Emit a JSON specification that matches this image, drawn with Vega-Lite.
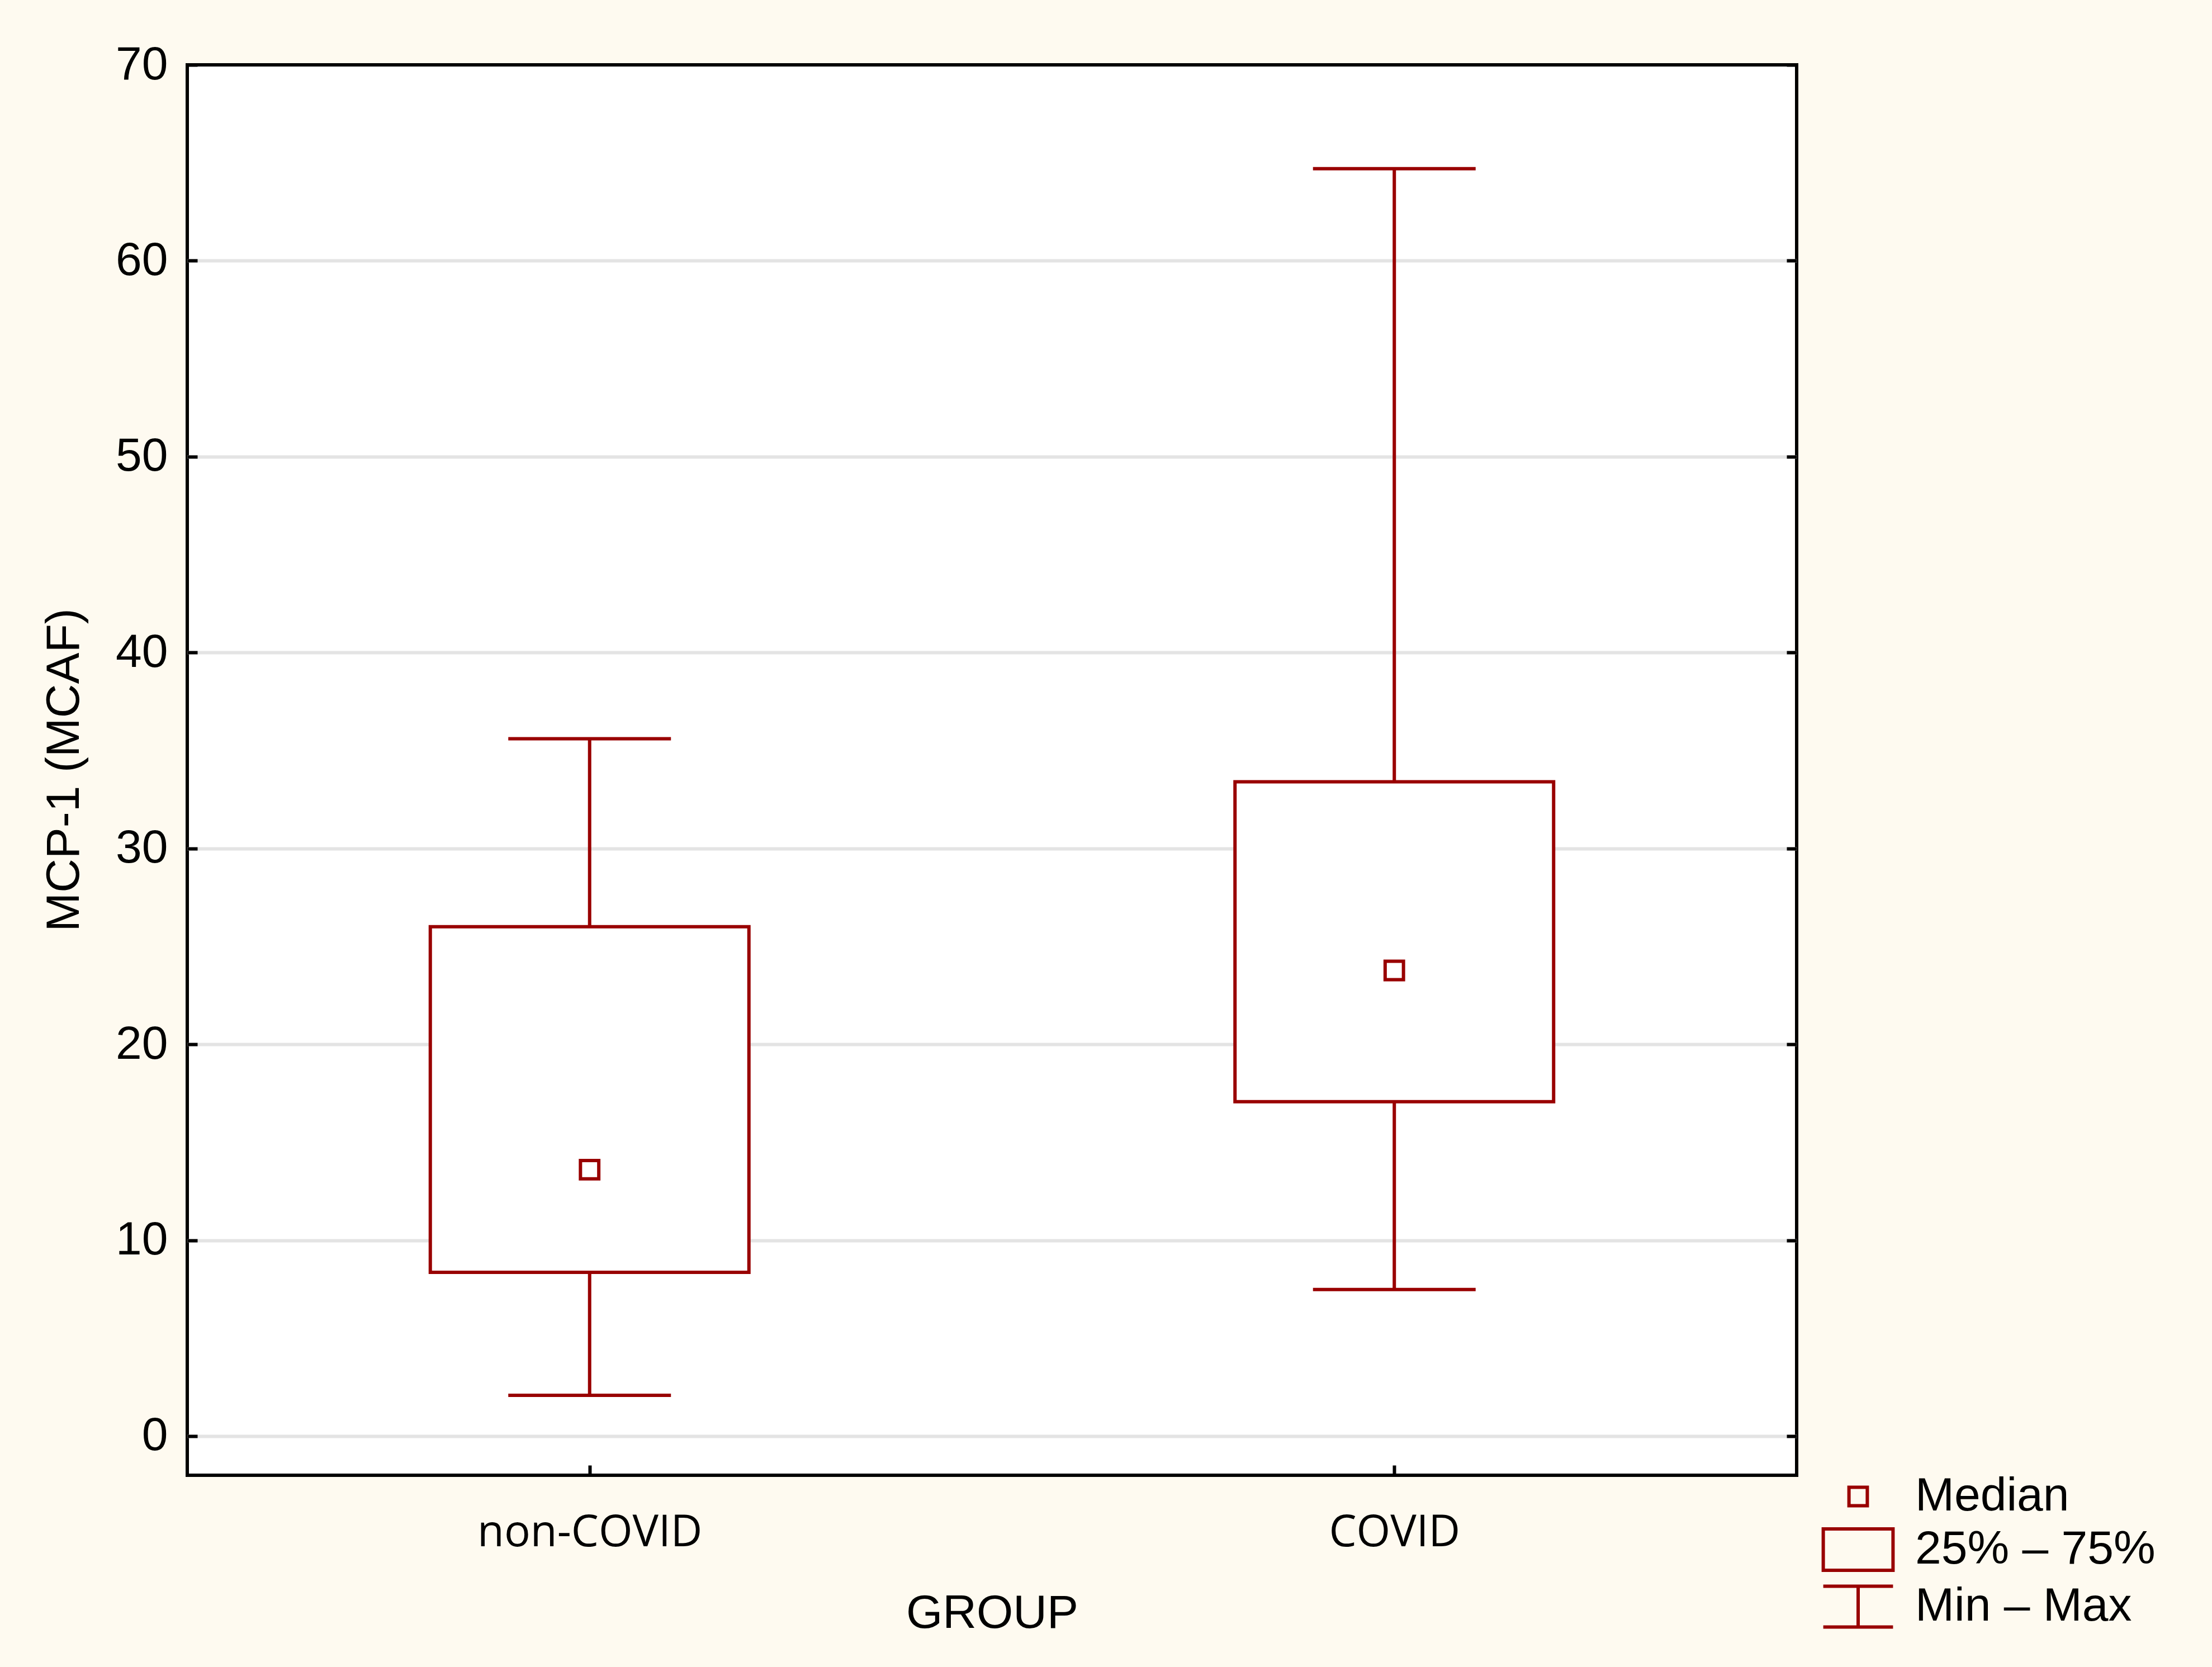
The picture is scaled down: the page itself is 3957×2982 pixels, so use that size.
{
  "$schema": "https://vega.github.io/schema/vega-lite/v6.json",
  "width": 2879,
  "height": 2523,
  "autosize": {"type": "none"},
  "padding": {"left": 335, "top": 116, "right": 743, "bottom": 343},
  "background": "#FEFAF0",
  "config": {
    "view": {"stroke": "black", "strokeWidth": 6, "fill": "white"},
    "axis": {"domain": false}
  },
  "data": {
    "values": [
      {"group": "non-COVID", "min": 2.08, "q1": 8.36, "median": 13.6, "q3": 26.0, "max": 35.6, "legend": "Median"},
      {"group": "COVID", "min": 7.48, "q1": 17.07, "median": 23.77, "q3": 33.4, "max": 64.7, "legend": "Median"}
    ]
  },
  "encoding": {
    "x": {
      "field": "group",
      "type": "nominal",
      "scale": {"type": "point", "padding": 0.5, "domain": ["non-COVID", "COVID"]},
      "axis": {
        "title": "GROUP",
        "orient": "bottom",
        "labelAngle": 0,
        "labelFont": "Open Sans",
        "labelFontSize": 78,
        "labelColor": "black",
        "labelBaseline": "alphabetic",
        "labelPadding": 144,
        "labelLimit": 0,
        "tickSize": -18,
        "tickWidth": 6,
        "tickColor": "black",
        "grid": false,
        "titleFont": "Liberation Sans",
        "titleFontSize": 84,
        "titleFontWeight": "normal",
        "titleColor": "black",
        "titleBaseline": "alphabetic",
        "titleAlign": "center",
        "titleX": 1439.5,
        "titleY": 272
      }
    }
  },
  "resolve": {"axis": {"y": "independent"}},
  "layer": [
    {
      "mark": {"type": "rule", "color": "#990000", "strokeWidth": 6},
      "encoding": {
        "y": {
          "field": "min",
          "type": "quantitative",
          "scale": {"domain": [-2, 70], "nice": false, "zero": false},
          "axis": {
            "title": "MCP-1 (MCAF)",
            "orient": "left",
            "values": [0, 10, 20, 30, 40, 50, 60, 70],
            "grid": true,
            "gridColor": "#E4E4E4",
            "gridWidth": 6,
            "gridOpacity": {"condition": {"test": "datum.value >= 70", "value": 0}, "value": 1},
            "tickSize": -18,
            "tickWidth": 6,
            "tickColor": "black",
            "labelFont": "Liberation Sans",
            "labelFontSize": 84,
            "labelColor": "black",
            "labelPadding": 53,
            "titleFont": "Liberation Sans",
            "titleFontSize": 84,
            "titleFontWeight": "normal",
            "titleColor": "black",
            "titleAngle": -90,
            "titleAlign": "center",
            "titleBaseline": "alphabetic",
            "titleX": -195,
            "titleY": 1261
          }
        },
        "y2": {"field": "q1"}
      }
    },
    {
      "mark": {"type": "rule", "color": "#990000", "strokeWidth": 6},
      "encoding": {
        "y": {
          "field": "q3",
          "type": "quantitative",
          "scale": {"domain": [-2, 70], "nice": false, "zero": false},
          "axis": {
            "title": null,
            "orient": "right",
            "values": [0, 10, 20, 30, 40, 50, 60, 70],
            "grid": false,
            "labels": false,
            "tickSize": -18,
            "tickWidth": 6,
            "tickColor": "black"
          }
        },
        "y2": {"field": "max"}
      }
    },
    {
      "mark": {"type": "bar", "width": 570, "fill": "white", "stroke": "#990000", "strokeWidth": 6, "opacity": 1},
      "encoding": {
        "y": {"field": "q1", "type": "quantitative", "scale": {"domain": [-2, 70], "nice": false, "zero": false}, "axis": null},
        "y2": {"field": "q3"}
      }
    },
    {
      "mark": {"type": "tick", "size": 291, "thickness": 6, "color": "#990000", "opacity": 1},
      "encoding": {
        "y": {"field": "min", "type": "quantitative", "scale": {"domain": [-2, 70], "nice": false, "zero": false}, "axis": null}
      }
    },
    {
      "mark": {"type": "tick", "size": 291, "thickness": 6, "color": "#990000", "opacity": 1},
      "encoding": {
        "y": {"field": "max", "type": "quantitative", "scale": {"domain": [-2, 70], "nice": false, "zero": false}, "axis": null}
      }
    },
    {
      "mark": {"type": "point", "filled": false, "color": "#990000", "strokeWidth": 6, "size": 6400, "opacity": 1},
      "encoding": {
        "y": {"field": "median", "type": "quantitative", "scale": {"domain": [-2, 70], "nice": false, "zero": false}, "axis": null},
        "shape": {
          "field": "legend",
          "type": "nominal",
          "scale": {
            "domain": ["Median", "25% – 75%", "Min – Max"],
            "range": [
              "M-0.41,-0.41L0.41,-0.41L0.41,0.41L-0.41,0.41Z",
              "M-1.56,-0.925L1.56,-0.925L1.56,0.925L-1.56,0.925Z",
              "M-1.56,-0.91L1.56,-0.91M0,-0.91L0,0.91M-1.56,0.91L1.56,0.91"
            ]
          },
          "legend": {
            "title": null,
            "orient": "none",
            "legendX": 2946,
            "legendY": 2518,
            "symbolSize": 6400,
            "symbolStrokeWidth": 6,
            "symbolStrokeColor": "#990000",
            "symbolFillColor": "transparent",
            "symbolOpacity": 1,
            "labelFont": "Liberation Sans",
            "labelFontSize": 84,
            "labelColor": "black",
            "labelOffset": 59,
            "labelLimit": 0,
            "rowPadding": 4,
            "padding": 0
          }
        }
      }
    }
  ]
}
